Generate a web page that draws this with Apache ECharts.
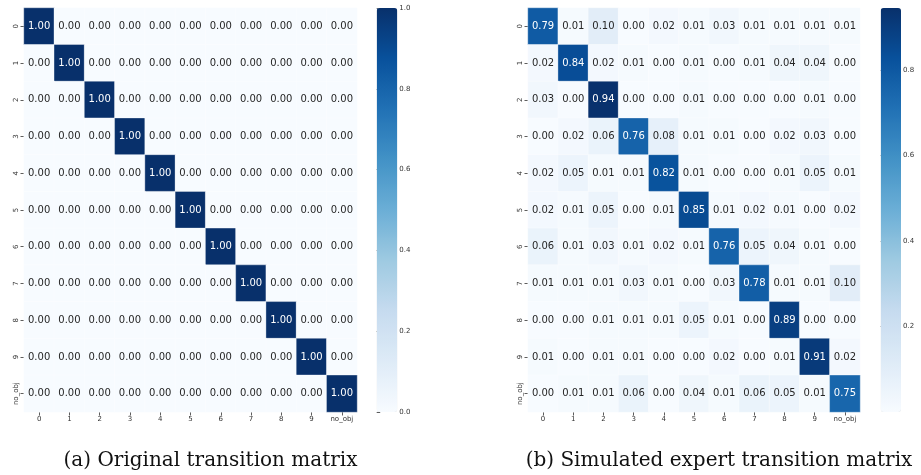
<!DOCTYPE html>
<html>
<head>
<meta charset="utf-8">
<script src="https://cdn.jsdelivr.net/npm/echarts@6/dist/echarts.min.js"></script>
<style>
html,body{margin:0;padding:0;background:#fff;}
#main{width:921px;height:475px;}
</style>
</head>
<body>
<div id="main"></div>
<script>
// ---- data ----
const categories = ['0','1','2','3','4','5','6','7','8','9','no_obj'];

const originalMatrix = [
  [1,0,0,0,0,0,0,0,0,0,0],
  [0,1,0,0,0,0,0,0,0,0,0],
  [0,0,1,0,0,0,0,0,0,0,0],
  [0,0,0,1,0,0,0,0,0,0,0],
  [0,0,0,0,1,0,0,0,0,0,0],
  [0,0,0,0,0,1,0,0,0,0,0],
  [0,0,0,0,0,0,1,0,0,0,0],
  [0,0,0,0,0,0,0,1,0,0,0],
  [0,0,0,0,0,0,0,0,1,0,0],
  [0,0,0,0,0,0,0,0,0,1,0],
  [0,0,0,0,0,0,0,0,0,0,1]
];

const simulatedMatrix = [
  [0.79,0.01,0.10,0.00,0.02,0.01,0.03,0.01,0.01,0.01,0.01],
  [0.02,0.84,0.02,0.01,0.00,0.01,0.00,0.01,0.04,0.04,0.00],
  [0.03,0.00,0.94,0.00,0.00,0.01,0.00,0.00,0.00,0.01,0.00],
  [0.00,0.02,0.06,0.76,0.08,0.01,0.01,0.00,0.02,0.03,0.00],
  [0.02,0.05,0.01,0.01,0.82,0.01,0.00,0.00,0.01,0.05,0.01],
  [0.02,0.01,0.05,0.00,0.01,0.85,0.01,0.02,0.01,0.00,0.02],
  [0.06,0.01,0.03,0.01,0.02,0.01,0.76,0.05,0.04,0.01,0.00],
  [0.01,0.01,0.01,0.03,0.01,0.00,0.03,0.78,0.01,0.01,0.10],
  [0.00,0.00,0.01,0.01,0.01,0.05,0.01,0.00,0.89,0.00,0.00],
  [0.01,0.00,0.01,0.01,0.00,0.00,0.02,0.00,0.01,0.91,0.02],
  [0.00,0.01,0.01,0.06,0.00,0.04,0.01,0.06,0.05,0.01,0.75]
];

const leftScaleMax = 1.0;
const rightScaleMax = 0.945;
const leftBarTicks = [0, 0.2, 0.4, 0.6, 0.8, 1.0];
const rightBarTicks = [0.2, 0.4, 0.6, 0.8];

const titleA = '(a) Original transition matrix';
const titleB = '(b) Simulated expert transition matrix';

// matplotlib "Blues"
const blues = ['#f7fbff','#deebf7','#c6dbef','#9ecae1','#6baed6','#4292c6','#2171b5','#08519c','#08306b'];

function toItems(matrix, vmax) {
  const out = [];
  matrix.forEach((row, r) => {
    row.forEach((v, c) => {
      const dark = v / vmax > 0.6;
      out.push({
        value: [c, r, v],
        label: { color: dark ? '#ffffff' : '#262626' }
      });
    });
  });
  return out;
}

const axisTxt = { color: '#333', fontSize: 7, fontFamily: 'DejaVu Sans' };

function catX(gridIndex) {
  return {
    type: 'category', data: categories, gridIndex,
    axisLine: { show: false },
    axisTick: { show: true, alignWithLabel: true, length: 3.5, lineStyle: { color: '#333', width: 0.8 } },
    axisLabel: Object.assign({ margin: 4 }, axisTxt),
    splitLine: { show: false }
  };
}
function catY(gridIndex) {
  return {
    type: 'category', data: categories, gridIndex, inverse: true,
    axisLine: { show: false },
    axisTick: { show: true, alignWithLabel: true, length: 3.5, lineStyle: { color: '#333', width: 0.8 } },
    axisLabel: Object.assign({ margin: 4, rotate: 90 }, axisTxt),
    splitLine: { show: false }
  };
}
function barY(gridIndex, max, ticks) {
  return {
    type: 'value', gridIndex, min: 0, max: max, position: 'right',
    axisLine: { show: false },
    splitLine: { show: false },
    axisTick: { show: true, length: 3.5, customValues: ticks, lineStyle: { color: '#333', width: 0.8 } },
    axisLabel: Object.assign({ margin: 2, customValues: ticks, formatter: v => v.toFixed(1) }, axisTxt)
  };
}
function barX(gridIndex) {
  return { type: 'value', gridIndex, show: false, min: 0, max: 1 };
}

const chart = echarts.init(document.getElementById('main'), null, { renderer: 'canvas' });

const cellLabel = { show: true, fontSize: 10, fontFamily: 'DejaVu Sans', formatter: p => p.value[2].toFixed(2) };
const cellStyle = { borderColor: 'rgba(255,255,255,0.7)', borderWidth: 0.5 };

chart.setOption({
  animation: false,
  backgroundColor: '#ffffff',
  grid: [
    { left: 24, top: 8, width: 333, height: 404 },
    { left: 528, top: 8, width: 332, height: 404 },
    { left: 376.7, top: 8, width: 20.6, height: 404 },
    { left: 880.7, top: 8, width: 20.3, height: 404 }
  ],
  xAxis: [catX(0), catX(1), barX(2), barX(3)],
  yAxis: [catY(0), catY(1), barY(2, leftScaleMax, leftBarTicks), barY(3, rightScaleMax, rightBarTicks)],
  visualMap: [
    {
      type: 'continuous', min: 0, max: leftScaleMax, seriesIndex: 0,
      left: 376.7, top: 8, itemWidth: 20.6, itemHeight: 404, padding: 0,
      calculable: false, hoverLink: false, inRange: { color: blues }, textStyle: { fontSize: 0 }, text: null
    },
    {
      type: 'continuous', min: 0, max: rightScaleMax, seriesIndex: 1,
      left: 880.7, top: 8, itemWidth: 20.3, itemHeight: 404, padding: 0,
      calculable: false, hoverLink: false, inRange: { color: blues }, textStyle: { fontSize: 0 }, text: null
    }
  ],
  series: [
    {
      type: 'heatmap', xAxisIndex: 0, yAxisIndex: 0,
      data: toItems(originalMatrix, leftScaleMax),
      label: cellLabel, itemStyle: cellStyle, emphasis: { disabled: true }
    },
    {
      type: 'heatmap', xAxisIndex: 1, yAxisIndex: 1,
      data: toItems(simulatedMatrix, rightScaleMax),
      label: cellLabel, itemStyle: cellStyle, emphasis: { disabled: true }
    }
  ],
  graphic: [
    { type: 'text', x: 210.5, y: 461, style: { text: titleA, fill: '#111', font: '20px "DejaVu Serif"', textAlign: 'center', textVerticalAlign: 'middle' } },
    { type: 'text', x: 719, y: 461, style: { text: titleB, fill: '#111', font: '20px "DejaVu Serif"', textAlign: 'center', textVerticalAlign: 'middle' } }
  ]
});
</script>
</body>
</html>
